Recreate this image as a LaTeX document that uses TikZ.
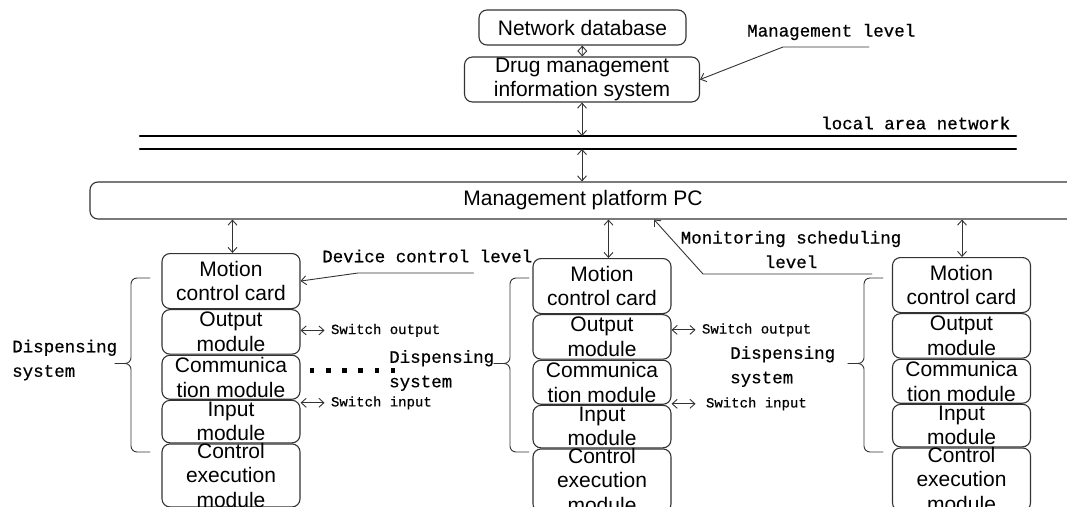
\documentclass[tikz,border=0pt]{standalone}
\usepackage{fontspec}
\setmainfont{Liberation Sans}
\newfontfamily\annfont[FakeBold=0.5]{Liberation Mono}
\usetikzlibrary{arrows.meta}
\begin{document}
\begin{tikzpicture}[x=1pt,y=-1pt,line cap=round,line join=round,>={Straight Barb[length=5pt,width=9pt]},
    font=\fontsize{21}{24.5}\selectfont,
    box/.style={draw=black!80,line width=1.1pt,rounded corners=8pt,inner sep=0pt},
    modtxt/.style={align=center,inner sep=0pt},
    ann/.style={font=\annfont\fontsize{17.5}{24.5}\selectfont,inner sep=0pt},
    sw/.style={font=\annfont\fontsize{14}{16}\selectfont,inner sep=0pt,anchor=west,xshift=6pt},
    lead/.style={draw=black!80,line width=0.9pt}]
    \useasboundingbox (0,0) rectangle (1067,506);
    % management level
    \node[box,minimum width=207,minimum height=35] (db) at (582.5,27.5) {Network database};
    \node[box,minimum width=235,minimum height=45,align=center] (dm) at (582,79.5) {Drug management\\information system};
    \draw[<->,lead] (db) -- (dm);
    \node[ann,anchor=west] (mlv) at (747,32) {Management level};
    \coordinate (mlv0) at (869,47);
    \draw[->,lead] (mlv0) -- (783,47) -- (dm.east);
    % local area network
    \draw[line width=2.4pt] (140,136) coordinate (l1a) -- (1016,136) coordinate (l1b);
    \draw[line width=2.4pt] (140,149) coordinate (l2a) -- (1016,149) coordinate (l2b);
    \node[ann,anchor=west] (lan) at (821,123) {local area network};
    \node[box,minimum width=986,minimum height=37] (pc) at (583,200.5) {Management platform PC};
    \draw[<->,lead] (dm.south) -- (dm.south |- l1a);
    \draw[<->,lead] (dm.south |- l2a) -- (dm.south |- pc.north);
    % three dispensing systems
    \foreach \i/\x/\t/\ax/\bx in {1/231/253/1.5/131,2/602/258/6.5/510,3/961.5/257/0.5/864}{
        \node[box,minimum width=138,minimum height=55,anchor=north] (m\i) at (\x,\t) {};
        \node[box,minimum width=138,minimum height=44.5,anchor=north] (o\i) at (m\i.south) {};
        \node[box,minimum width=138,minimum height=44,anchor=north] (c\i) at (o\i.south) {};
        \node[box,minimum width=138,minimum height=42.5,anchor=north] (n\i) at (c\i.south) {};
        \node[box,minimum width=138,minimum height=63,anchor=north] (e\i) at (n\i.south) {};
        \node[modtxt] (mt\i) at (m\i) {Motion\\control card};
        \node[modtxt] (ot\i) at (o\i) {Output\\module};
        \node[modtxt] (ct\i) at (c\i) {Communica\\tion module};
        \node[modtxt] (nt\i) at (n\i) {Input\\module};
        \node[modtxt] (et\i) at (e\i) {Control\\execution\\module};
        \path (m\i.north) ++(\ax,0) coordinate (t\i);
        \draw[<->,lead] (t\i |- pc.south) -- (t\i);
        \draw[lead,rounded corners=6pt] ({\bx+19},278) -- (\bx,278) -- (\bx,363.5) -- ({\bx-16},363.5);
        \draw[lead,rounded corners=6pt] ({\bx+19},452) -- (\bx,452) -- (\bx,363.5) -- ({\bx-16},363.5);
    }
    \node[ann,align=left,anchor=west] (ds1) at (12,360) {Dispensing\\system};
    \node[ann,align=left,anchor=west] (ds2) at (389,370.5) {Dispensing\\system};
    \node[ann,align=left,anchor=west] (ds3) at (730,366.5) {Dispensing\\system};
    \draw[line cap=butt,line width=4.5pt,dash pattern=on 4.5pt off 11.7pt] (309.8,370.7) -- (397,370.7);
    % switch signals
    \draw[<->,lead] ([yshift=1.5pt]o1.east) -- ++(24,0) node[sw] (so1) {Switch output};
    \draw[<->,lead] ([yshift=-3pt]n1.north east) -- ++(24,0) node[sw] (si1) {Switch input};
    \draw[<->,lead] ([yshift=7pt]o2.east) -- ++(24,0) node[sw] (so2) {Switch output};
    \draw[<->,lead] ([yshift=1pt]n2.north east) -- ++(24,0) node[sw,xshift=4pt] (si2) {Switch input};
    % control levels
    \node[ann,anchor=west] (dcl) at (322,256) {Device control level};
    \coordinate (dcl0) at (473.5,273);
    \draw[->,lead] (dcl0) -- (358,273) -- (m1.east);
    \node[ann,align=center] (msl) at (791,249.5) {Monitoring scheduling\\level};
    \coordinate (msl0) at (872,274);
    \draw[->,lead] (msl0) -- (703,274) -- ([xshift=71pt]pc.south);
\end{tikzpicture}
\end{document}
